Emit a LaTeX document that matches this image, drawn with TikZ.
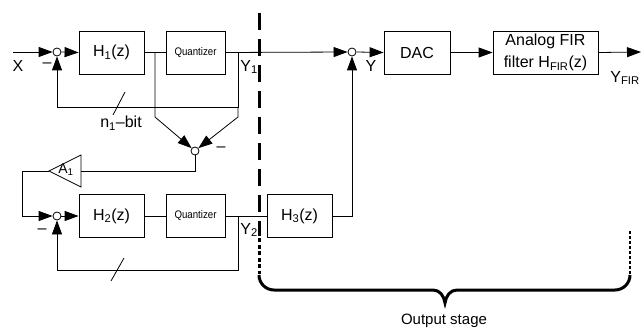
\documentclass[tikz,border=0pt]{standalone}
\usepackage{fontspec}
\setmainfont{Liberation Sans}
\usetikzlibrary{arrows.meta}
\begin{document}
\begin{tikzpicture}[x=1pt,y=-1pt,
  line width=0.8pt,
  blk/.style={draw,minimum width=65pt,minimum height=43pt,inner sep=0pt,font=\fontsize{16}{19}\selectfont},
  qbox/.style={draw,minimum width=59pt,minimum height=43pt,inner sep=0pt},
  sumc/.style={draw,circle,minimum size=8pt,inner sep=0pt},
  arr/.style={-{Triangle[length=14pt,width=10pt]}},
  lbl/.style={font=\fontsize{16}{19}\selectfont,inner sep=0pt},
  thick dash/.style={line width=3pt},
]
\useasboundingbox (0,0) rectangle (641,329);
\newcommand{\qtext}{\scalebox{0.88}[1]{\fontsize{11}{13}\selectfont Quantizer}}
% nodes top row
\node[sumc] (S1) at (57,52) {};
\node[blk] (H1) at (111.5,52.5) {H\textsubscript{1}(z)};
\node[qbox] (Q1) at (195.5,52.5) {\qtext};
\coordinate (ta) at (155,52);
\coordinate (b1) at (238,52);
\node[sumc] (S3) at (352,52) {};
\node[blk,minimum width=66pt] (DAC) at (417,52.5) {DAC};
\node[blk,minimum width=105pt,align=center,font=\fontsize{16}{22}\selectfont] (FIR) at (545.5,52.5) {Analog FIR\\filter H\textsubscript{FIR}(z)};
\coordinate (Xin) at (13,52);
\coordinate (Yout) at (641,52);
% middle
\node[sumc] (S2) at (195,151) {};
\coordinate (Abase) at (81,171);
\coordinate (Atip) at (49,171);
% bottom row
\node[sumc] (S4) at (57,216) {};
\node[blk] (H2) at (111.5,216) {H\textsubscript{2}(z)};
\node[qbox] (Q2) at (195.5,216) {\qtext};
\coordinate (b2) at (238,216);
\node[blk] (H3) at (299.5,216) {H\textsubscript{3}(z)};

% top path
\draw[arr] (Xin) -- (S1.west);
\draw[arr] (S1.east) -- (H1.west);
\draw (H1.east) -- (Q1.west);
\draw[arr] (Q1.east) -- (S3.west);
\draw[arr] (S3.east) -- (DAC.west);
\draw[arr] (DAC.east) -- (FIR.west);
\draw[arr] (FIR.east) -- (Yout);
% feedback 1
\draw[arr] (b1) -- (238,107) -| (S1.south);
\draw (113,115) -- (125,92);
% difference
\draw[arr] (ta) -- (155,117) -- (S2.140);
\draw[arr] (238,107) -- (238,117) -- (S2.40);
% amplifier
\draw (S2.south) -- (195,171) -- (Abase);
\draw (Atip) -- (81,155) -- (81,187) -- cycle;
\draw[arr] (Atip) -- (22,171) |- (S4.west);
% bottom path
\draw[arr] (S4.east) -- (H2.west);
\draw (H2.east) -- (Q2.west);
\draw (Q2.east) -- (H3.west);
\draw[arr] (b2) -- (238,270) -| (S4.south);
\draw (111,281) -- (124,258);
\draw[arr] (H3.east) -- (352,216) -- (S3.south);

% labels
\node[lbl] at (18,66) {X};
\node[lbl] at (47,65) {–};
\node[lbl] at (42,231) {–};
\node[lbl] at (221,149) {–};
\node[lbl,anchor=west] at (240,67) {Y\textsubscript{1}};
\node[lbl,anchor=west] at (240,230) {Y\textsubscript{2}};
\node[lbl] at (371,66) {Y};
\node[lbl] at (625,78) {Y\textsubscript{FIR}};
\node[lbl] at (121,123) {n\textsubscript{1}–bit};
\node[font=\fontsize{14}{16}\selectfont,inner sep=0pt] at (66,170) {A\textsubscript{1}};

% output stage
\draw[thick dash,dash pattern=on 17pt off 9pt] (259,13) -- (259,236);
\draw[thick dash,dash pattern=on 4pt off 2.5pt] (259,238) -- (259,274);
\draw[line width=3pt] (259,275) arc[start angle=180,end angle=90,radius=15]
  -- (433,290) .. controls (440,290) and (444,296) .. (445,303)
  .. controls (446,296) and (450,290) .. (457,290) -- (615,290)
  arc[start angle=90,end angle=0,radius=15];
\draw[line width=2.5pt,dash pattern=on 3pt off 2pt] (630,274) -- (630,231);
\node[font=\fontsize{15}{18}\selectfont,inner sep=0pt] at (444,321) {Output stage};
\end{tikzpicture}
\end{document}
